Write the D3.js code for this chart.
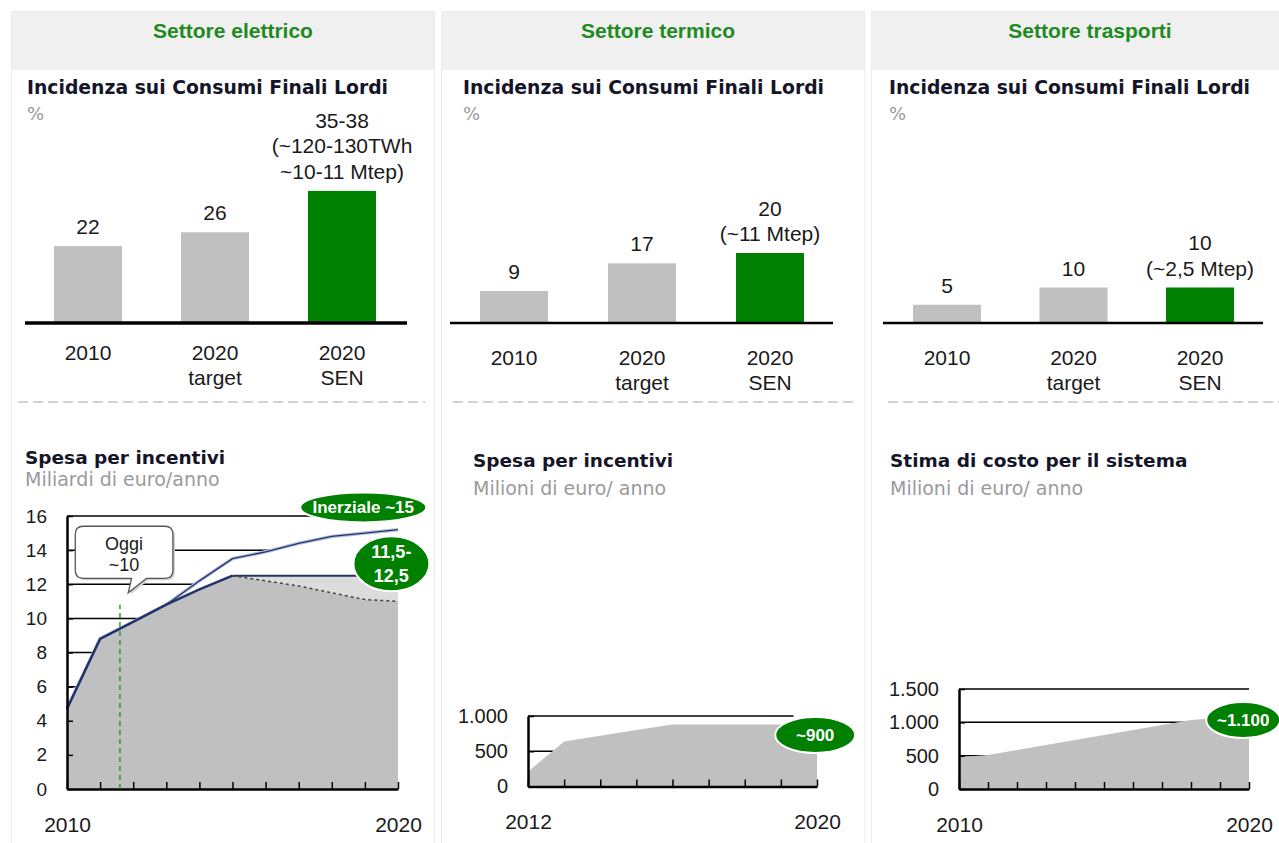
<!DOCTYPE html>
<html>
<head>
<meta charset="utf-8">
<script src="https://cdn.jsdelivr.net/npm/d3@7"></script>
<style>
  body { margin: 0; background: #fff; }
  svg { display: block; }
</style>
</head>
<body>
<div id="container"></div>
<script>
let w = 1279;
let h = 843;

// DATA
let sectors = ["Settore elettrico", "Settore termico", "Settore trasporti"];
let barCategories = [["2010"], ["2020", "target"], ["2020", "SEN"]];
let barElettrico = [22, 26, 38];
let barTermico = [9, 17, 20];
let barTrasporti = [5, 10, 10];
let labelsElettrico = [["22"], ["26"], ["35-38", "(~120-130TWh", "~10-11 Mtep)"]];
let labelsTermico = [["9"], ["17"], ["20", "(~11 Mtep)"]];
let labelsTrasporti = [["5"], ["10"], ["10", "(~2,5 Mtep)"]];

let topTitle = "Incidenza sui Consumi Finali Lordi";
let topUnit = "%";
let bottomTitles = ["Spesa per incentivi", "Spesa per incentivi", "Stima di costo per il sistema"];
let bottomUnits = ["Miliardi di euro/anno", "Milioni di euro/ anno", "Milioni di euro/ anno"];

// settore elettrico - spesa per incentivi (mld/anno)
let elYears = [2010, 2011, 2012, 2013, 2014, 2015, 2016, 2017, 2018, 2019, 2020];
let elInerziale = [4.7, 8.8, 9.8, 10.8, 12.2, 13.5, 13.9, 14.4, 14.8, 15.0, 15.2];
let elSen = [4.7, 8.8, 9.8, 10.8, 11.7, 12.5, 12.2, 11.9, 11.5, 11.1, 11.0];
let elSenHigh = [null, null, null, null, null, 12.5, 12.5, 12.5, 12.5, 12.5, 12.5];
let elTicks = [0, 2, 4, 6, 8, 10, 12, 14, 16];
let oggiYear = 2011.6;

// settore termico (mln/anno)
let teYears = [2012, 2013, 2014, 2015, 2016, 2017, 2018, 2019, 2020];
let teValues = [210, 640, 720, 800, 880, 880, 880, 880, 880];
let teTicks = [0, 500, 1000];

// settore trasporti (mln/anno)
let trYears = [2010, 2011, 2012, 2013, 2014, 2015, 2016, 2017, 2018, 2019, 2020];
let trValues = [480, 510, 585, 660, 735, 810, 885, 960, 1035, 1070, 1100];
let trTicks = [0, 500, 1000, 1500];

let calloutLines = ["Oggi", "~10"];

// COLORS / FONTS
let green = "#008000";
let barGray = "#c0c0c0";
let navy = "#23336a";
let numFont = "'Liberation Sans', Arial, sans-serif";
let titleFont = "'DejaVu Sans', Verdana, sans-serif";

let itFormat = d3.formatLocale({decimal: ",", thousands: ".", grouping: [3], currency: ["€", ""]}).format(",");

let viz = d3.select("#container").append("svg")
  .attr("width", w)
  .attr("height", h)
  .style("background-color", "white");

// panels
let panels = [
  {x: 11.5, w: 423, bars: barElettrico, labels: labelsElettrico, barRange: [88, 342], base: [25, 407], baseW: 3.5, catY: 360, dash: [18, 425], titleX: 27, headX: 233},
  {x: 441.5, w: 423.5, bars: barTermico, labels: labelsTermico, barRange: [514, 770], base: [450, 833], baseW: 2.5, catY: 365, dash: [453, 858], titleX: 463, headX: 658},
  {x: 871.5, w: 420, bars: barTrasporti, labels: labelsTrasporti, barRange: [947, 1200], base: [883, 1263], baseW: 2.5, catY: 365, dash: [888, 1279], titleX: 889, headX: 1090}
];

let barY = d3.scaleLinear().domain([0, 40]).range([322, 184]);
let barW = 68;

panels.forEach(function (p, i) {
  viz.append("rect")
    .attr("x", p.x).attr("y", 11.5)
    .attr("width", p.w).attr("height", h)
    .attr("fill", "white").attr("stroke", "#ebebeb");
  viz.append("rect")
    .attr("x", p.x).attr("y", 11.5)
    .attr("width", p.w).attr("height", 58.5)
    .attr("fill", "#f0f0f0");
  viz.append("text")
    .attr("x", p.headX).attr("y", 38)
    .attr("text-anchor", "middle")
    .style("font-family", numFont).style("font-weight", "bold").style("font-size", "21px")
    .attr("fill", "#1f8a1f")
    .text(sectors[i]);

  viz.append("text")
    .attr("x", p.titleX).attr("y", 94)
    .style("font-family", titleFont).style("font-weight", "bold").style("font-size", "18.8px")
    .attr("fill", "#15152a")
    .text(topTitle);
  viz.append("text")
    .attr("x", p.titleX).attr("y", 120)
    .style("font-family", titleFont).style("font-size", "18px")
    .attr("fill", "#999")
    .text(topUnit);

  let x = d3.scalePoint().domain(d3.range(barCategories.length)).range(p.barRange);

  viz.selectAll(".bar" + i).data(p.bars).enter()
    .append("rect")
    .attr("class", "bar" + i)
    .attr("x", function (d, j) { return x(j) - barW / 2 })
    .attr("y", function (d) { return barY(d) })
    .attr("width", barW)
    .attr("height", function (d) { return barY(0) - barY(d) })
    .attr("fill", function (d, j) { return j == 2 ? green : barGray });

  viz.append("line")
    .attr("x1", p.base[0]).attr("x2", p.base[1])
    .attr("y1", barY(0) + 1).attr("y2", barY(0) + 1)
    .attr("stroke", "black").attr("stroke-width", p.baseW);

  p.bars.forEach(function (d, j) {
    let lines = p.labels[j];
    lines.forEach(function (t, k) {
      viz.append("text")
        .attr("x", x(j))
        .attr("y", barY(d) - 12 - (lines.length - 1 - k) * 25.5)
        .attr("text-anchor", "middle")
        .style("font-family", numFont).style("font-size", "21px")
        .attr("fill", "#1a1a1a")
        .text(t);
    });
    barCategories[j].forEach(function (t, k) {
      viz.append("text")
        .attr("x", x(j))
        .attr("y", p.catY + k * 25)
        .attr("text-anchor", "middle")
        .style("font-family", numFont).style("font-size", "21px")
        .attr("fill", "#1a1a1a")
        .text(t);
    });
  });

  viz.append("line")
    .attr("x1", p.dash[0]).attr("x2", p.dash[1])
    .attr("y1", 402).attr("y2", 402)
    .attr("stroke", "#c4c4c4").attr("stroke-width", 1.5)
    .attr("stroke-dasharray", "10,5");
});

// bottom titles
let bottomTitlePos = [[25, 464, 486], [473, 467, 495], [890, 467, 495]];
bottomTitles.forEach(function (t, i) {
  viz.append("text")
    .attr("x", bottomTitlePos[i][0]).attr("y", bottomTitlePos[i][1])
    .style("font-family", titleFont).style("font-weight", "bold").style("font-size", "18.5px")
    .attr("fill", "#15152a")
    .text(t);
  viz.append("text")
    .attr("x", bottomTitlePos[i][0]).attr("y", bottomTitlePos[i][2])
    .style("font-family", titleFont).style("font-size", "19px")
    .attr("fill", "#9a9a9a")
    .text(bottomUnits[i]);
});

// gridlines for the small area charts
function drawFrame(g, x, y, ticks, gridEnd) {
  let xr = x.range();
  g.selectAll(".grid").data(ticks.filter(function (t) { return t > 0 })).enter()
    .append("line")
    .attr("class", "grid")
    .attr("x1", xr[0]).attr("x2", gridEnd != undefined ? x(gridEnd) : xr[1])
    .attr("y1", function (d) { return y(d) })
    .attr("y2", function (d) { return y(d) })
    .attr("stroke", "black").attr("stroke-width", 1.5);
}

function drawAxes(g, x, y, years, ticks, tickFontSize, fmt) {
  let ya = g.append("g")
    .attr("transform", "translate(" + x.range()[0] + ",0)")
    .call(d3.axisLeft(y).tickValues(ticks).tickSize(-6).tickSizeOuter(0).tickPadding(20).tickFormat(fmt));
  ya.select(".domain").attr("stroke-width", 2.5);
  ya.selectAll(".tick line").attr("stroke-width", 1.5);
  ya.selectAll("text")
    .style("font-family", numFont).style("font-size", tickFontSize + "px")
    .attr("fill", "#1a1a1a");

  let first = years[0];
  let last = years[years.length - 1];
  let xa = g.append("g")
    .attr("transform", "translate(0," + y(0) + ")")
    .call(d3.axisBottom(x).tickValues(years).tickSize(-7).tickSizeOuter(0).tickPadding(28)
      .tickFormat(function (d) { return (d == first || d == last) ? String(d) : "" }));
  xa.select(".domain").attr("stroke-width", 2.5);
  xa.selectAll(".tick line").attr("stroke-width", 1.5);
  xa.selectAll("text")
    .style("font-family", numFont).style("font-size", "21px")
    .attr("fill", "#1a1a1a");
}

function bubble(g, cx, cy, rx, ry, lines, size) {
  g.append("ellipse")
    .attr("cx", cx).attr("cy", cy).attr("rx", rx).attr("ry", ry)
    .attr("fill", green).attr("stroke", "white").attr("stroke-width", 2);
  lines.forEach(function (t, k) {
    g.append("text")
      .attr("x", cx)
      .attr("y", cy + 6 + (k - (lines.length - 1) / 2) * 24)
      .attr("text-anchor", "middle")
      .style("font-family", numFont).style("font-weight", "bold").style("font-size", size + "px")
      .attr("fill", "white")
      .text(t);
  });
}

// --- Settore elettrico area chart
let g1 = viz.append("g");
let x1 = d3.scaleLinear().domain([2010, 2020]).range([67, 398]);
let y1 = d3.scaleLinear().domain([0, 16]).range([789, 516]);
drawFrame(g1, x1, y1, elTicks);

g1.append("path")
  .datum(elYears)
  .attr("d", d3.area()
    .x(function (d) { return x1(d) })
    .y0(y1(0))
    .y1(function (d, i) { return y1(elInerziale[i]) }))
  .attr("fill", "white");

let senIdx = d3.range(elYears.length).filter(function (i) { return elSenHigh[i] != null });
g1.append("path")
  .datum(senIdx)
  .attr("d", d3.area()
    .x(function (i) { return x1(elYears[i]) })
    .y0(function (i) { return y1(elSen[i]) })
    .y1(function (i) { return y1(elSenHigh[i]) }))
  .attr("fill", "#dcdcdc");

g1.append("path")
  .datum(elYears)
  .attr("d", d3.area()
    .x(function (d) { return x1(d) })
    .y0(y1(0))
    .y1(function (d, i) { return y1(elSen[i]) }))
  .attr("fill", barGray);

let elLine = d3.line()
  .x(function (i) { return x1(elYears[i]) });

g1.append("path")
  .datum(d3.range(elYears.length))
  .attr("d", elLine.y(function (i) { return y1(elInerziale[i]) }))
  .attr("fill", "none").attr("stroke", "#b7c2dd").attr("stroke-width", 3.5);
g1.append("path")
  .datum(d3.range(elYears.length))
  .attr("d", elLine.y(function (i) { return y1(elInerziale[i]) }))
  .attr("fill", "none").attr("stroke", navy).attr("stroke-width", 1.3);

g1.append("path")
  .datum(d3.range(0, 6))
  .attr("d", elLine.y(function (i) { return y1(elSen[i]) }))
  .attr("fill", "none").attr("stroke", navy).attr("stroke-width", 2.5);
g1.append("path")
  .datum(senIdx)
  .attr("d", elLine.y(function (i) { return y1(elSenHigh[i]) }))
  .attr("fill", "none").attr("stroke", navy).attr("stroke-width", 2);
g1.append("path")
  .datum(senIdx)
  .attr("d", elLine.y(function (i) { return y1(elSen[i]) }))
  .attr("fill", "none").attr("stroke", "#444").attr("stroke-width", 1.5)
  .attr("stroke-dasharray", "3,3");

drawAxes(g1, x1, y1, elYears, elTicks, 19, function (d) { return d });

g1.append("line")
  .attr("x1", x1(oggiYear)).attr("x2", x1(oggiYear))
  .attr("y1", y1(0)).attr("y2", y1(10.8))
  .attr("stroke", "#2e9a2e").attr("stroke-width", 1.5)
  .attr("stroke-dasharray", "5,4");

// callout "Oggi ~10"
let cl = x1(2010.25), cr = x1(2013.2), ct = y1(15.4), cb = y1(12.35), r = 8;
let tipX = x1(2011.85), tipY = y1(11.5);
let tailL = x1(2011.95), tailR = x1(2012.4);
let calloutPath = "M" + (cl + r) + "," + ct +
  " H" + (cr - r) + " Q" + cr + "," + ct + " " + cr + "," + (ct + r) +
  " V" + (cb - r) + " Q" + cr + "," + cb + " " + (cr - r) + "," + cb +
  " H" + tailR + " L" + tipX + "," + tipY + " L" + tailL + "," + cb +
  " H" + (cl + r) + " Q" + cl + "," + cb + " " + cl + "," + (cb - r) +
  " V" + (ct + r) + " Q" + cl + "," + ct + " " + (cl + r) + "," + ct + " Z";
g1.append("path")
  .attr("d", calloutPath)
  .attr("transform", "translate(2,2)")
  .attr("fill", "#d0d0d0");
g1.append("path")
  .attr("d", calloutPath)
  .attr("fill", "white").attr("stroke", "#555").attr("stroke-width", 1.3);
calloutLines.forEach(function (t, k) {
  g1.append("text")
    .attr("x", (cl + cr) / 2)
    .attr("y", ct + 24 + k * 21)
    .attr("text-anchor", "middle")
    .style("font-family", numFont).style("font-size", "18px")
    .attr("fill", "#1a1a1a")
    .text(t);
});

bubble(g1, x1(2018.95), y1(16.5), 63, 15, ["Inerziale ~15"], 17);
bubble(g1, x1(2019.8), y1(13.2), 38, 27.5, ["11,5-", "12,5"], 18);

// --- Settore termico area chart
let g2 = viz.append("g");
let x2 = d3.scaleLinear().domain([2012, 2020]).range([528, 817]);
let y2 = d3.scaleLinear().domain([0, 1000]).range([786.5, 716]);
drawFrame(g2, x2, y2, teTicks, 2019.35);
g2.append("path")
  .datum(teYears)
  .attr("d", d3.area()
    .x(function (d) { return x2(d) })
    .y0(y2(0))
    .y1(function (d, i) { return y2(teValues[i]) }))
  .attr("fill", barGray);
drawAxes(g2, x2, y2, teYears, teTicks, 20, itFormat);
bubble(g2, x2(2019.95), y2(730), 40, 18, ["~900"], 17);

// --- Settore trasporti area chart
let g3 = viz.append("g");
let x3 = d3.scaleLinear().domain([2010, 2020]).range([959, 1249]);
let y3 = d3.scaleLinear().domain([0, 1500]).range([789, 689]);
drawFrame(g3, x3, y3, trTicks);
g3.append("path")
  .datum(trYears)
  .attr("d", d3.area()
    .x(function (d) { return x3(d) })
    .y0(y3(0))
    .y1(function (d, i) { return y3(trValues[i]) }))
  .attr("fill", barGray);
drawAxes(g3, x3, y3, trYears, trTicks, 20, itFormat);
bubble(g3, x3(2019.8), y3(1035), 37, 18, ["~1.100"], 17);
</script>
</body>
</html>
